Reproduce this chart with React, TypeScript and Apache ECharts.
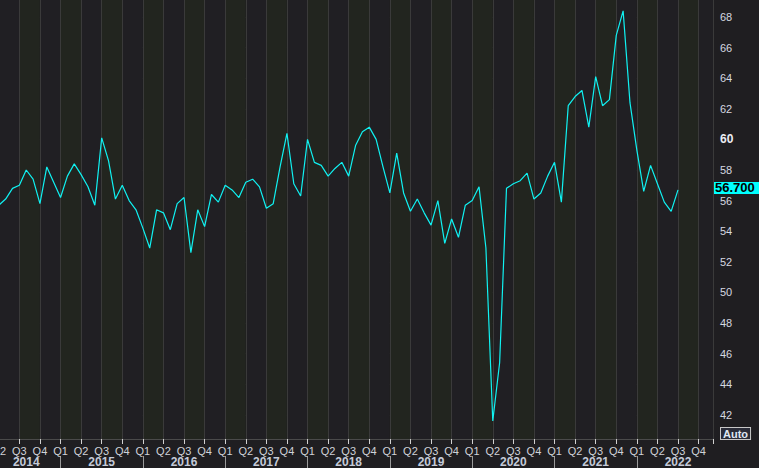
import { useEffect, useRef } from 'react';
import * as echarts from 'echarts';

// Month index counted from Jan 2014 (0 = Jan 2014)
const FIRST_YEAR = 2014;
const FIRST_POINT_MONTH = 3; // Apr 2014
const values = [
  55.7, 56.1, 56.8, 57.0, 58.0, 57.4, 55.8, 58.2, 57.2,
  56.2, 57.6, 58.4, 57.7, 56.9, 55.7, 60.1, 58.6, 56.1, 57.0, 56.0, 55.4,
  54.2, 52.9, 55.4, 55.2, 54.1, 55.8, 56.2, 52.6, 55.4, 54.3, 56.4, 55.9,
  57.0, 56.7, 56.2, 57.2, 57.4, 56.9, 55.5, 55.8, 58.2, 60.4, 57.1, 56.3,
  60.0, 58.5, 58.3, 57.6, 58.1, 58.5, 57.6, 59.6, 60.5, 60.8, 60.0, 58.2,
  56.5, 59.1, 56.5, 55.3, 56.1, 55.2, 54.4, 56.0, 53.2, 54.8, 53.6, 55.7,
  56.0, 56.9, 52.9, 41.6, 45.4, 56.8, 57.1, 57.3, 57.8, 56.1, 56.5, 57.6,
  58.5, 55.9, 62.2, 62.8, 63.2, 60.8, 64.1, 62.2, 62.6, 66.8, 68.4, 62.4,
  59.3, 56.6, 58.3, 57.1, 55.9, 55.3, 56.7,
];
const years = [2014, 2015, 2016, 2017, 2018, 2019, 2020, 2021, 2022];
const quarterLabels = ['Q1', 'Q2', 'Q3', 'Q4'];
const yTickLabels = [42, 44, 46, 48, 50, 52, 54, 56, 58, 60, 62, 64, 66, 68];
const lastValue = 56.7;
const lastValueLabel = '56.700';

const X_MAX = 107.1;
const Y_MIN = 40.42;
const Y_MAX = 69.11;
const FONT = '"Liberation Sans", Arial, sans-serif';

export default function App() {
  const ref = useRef<HTMLDivElement>(null);
  useEffect(() => {
    if (!ref.current) return;
    const chart = echarts.init(ref.current, null, { renderer: 'svg' });
    const points = values.map((v, i) => [FIRST_POINT_MONTH + i, v]);
    const quarterTicks: number[] = [];
    for (let m = 0; m <= 105; m += 3) quarterTicks.push(m);
    const quarterLabelPos = quarterTicks.filter((m) => m >= FIRST_POINT_MONTH);
    const areaTicks = [...quarterTicks, X_MAX];
    const yearTicks = years.slice(1).map((y) => (y - FIRST_YEAR) * 12);
    const yearLabelPos = years.map((y, i) => (i === 0 ? 7 : (y - FIRST_YEAR) * 12 + 6));

    chart.setOption({
      animation: false,
      backgroundColor: '#1f1e21',
      textStyle: { fontFamily: FONT },
      grid: {
        left: -21.8,
        right: 46,
        top: 0,
        bottom: 29,
        containLabel: false,
        outerBoundsMode: 'none',
      },
      xAxis: [
        {
          type: 'value',
          position: 'bottom',
          min: 0,
          max: X_MAX,
          axisLine: { show: true, lineStyle: { color: '#4a4a4a', width: 1 } },
          axisTick: { show: true, length: 5, customValues: areaTicks, lineStyle: { color: '#d0d0d0' } },
          axisLabel: {
            customValues: quarterLabelPos,
            margin: 6,
            color: '#cfd2d8',
            fontSize: 11,
            lineHeight: 11,
            fontFamily: FONT,
            formatter: (v: number) => quarterLabels[Math.round(v / 3) % 4],
          },
          splitLine: { show: true, lineStyle: { color: '#3a3a3a', width: 1 } },
          splitArea: { show: true, areaStyle: { color: ['#22251f', '#201f23'] } },
        },
        {
          type: 'value',
          position: 'bottom',
          min: 0,
          max: X_MAX,
          offset: 17,
          axisLine: { show: false },
          axisTick: { show: true, length: 12, customValues: yearTicks, lineStyle: { color: '#9a9a9a' } },
          axisLabel: {
            customValues: yearLabelPos,
            margin: 0,
            color: '#c4cad8',
            fontSize: 12,
            lineHeight: 12,
            fontWeight: 'bold',
            fontFamily: FONT,
            formatter: (v: number) => String(FIRST_YEAR + Math.floor(v / 12)),
          },
          splitLine: { show: false },
          splitArea: { show: false },
        },
      ],
      yAxis: {
        type: 'value',
        position: 'right',
        min: Y_MIN,
        max: Y_MAX,
        axisLine: { show: true, lineStyle: { color: '#ffffff', width: 1.5 } },
        axisTick: { show: true, length: 5, customValues: yTickLabels, lineStyle: { color: '#c8c8c8' } },
        axisLabel: {
          customValues: yTickLabels,
          margin: 7,
          color: '#d6d8e0',
          fontSize: 11,
          lineHeight: 11,
          fontFamily: FONT,
          formatter: (v: number) => (v === 60 ? `{b|${v}}` : `${v}`),
          rich: { b: { fontWeight: 'bold', fontSize: 12, lineHeight: 12, color: '#eceef4', fontFamily: FONT } },
        },
        splitLine: { show: true, lineStyle: { color: '#3a3a3a', width: 1 } },
      },
      series: [
        {
          type: 'line',
          data: points,
          symbol: 'none',
          showSymbol: false,
          lineStyle: { color: '#10f2f2', width: 1.2 },
          markLine: {
            silent: true,
            symbol: 'none',
            lineStyle: { color: 'rgba(0,0,0,0)', width: 0 },
            data: [{ yAxis: lastValue }],
            label: {
              show: true,
              position: 'end',
              distance: 1,
              offset: [0, -2],
              formatter: lastValueLabel,
              backgroundColor: '#00ffff',
              color: '#000000',
              fontWeight: 'bold',
              fontSize: 13,
              fontFamily: FONT,
              lineHeight: 12,
              padding: [0, 5, 0, 1],
            },
          },
        },
      ],
      graphic: [
        {
          type: 'text',
          left: 720,
          top: 427,
          style: {
            text: 'Auto',
            fill: '#dfe6f2',
            font: `bold 11px ${FONT}`,
            backgroundColor: '#2a2c38',
            borderColor: '#c8c8c8',
            borderWidth: 1,
            padding: [0, 2, 0, 2],
          },
        },
      ],
    });
    return () => chart.dispose();
  }, []);
  return <div ref={ref} style={{ position: 'absolute', left: 0, top: 0, width: 759, height: 468 }} />;
}
